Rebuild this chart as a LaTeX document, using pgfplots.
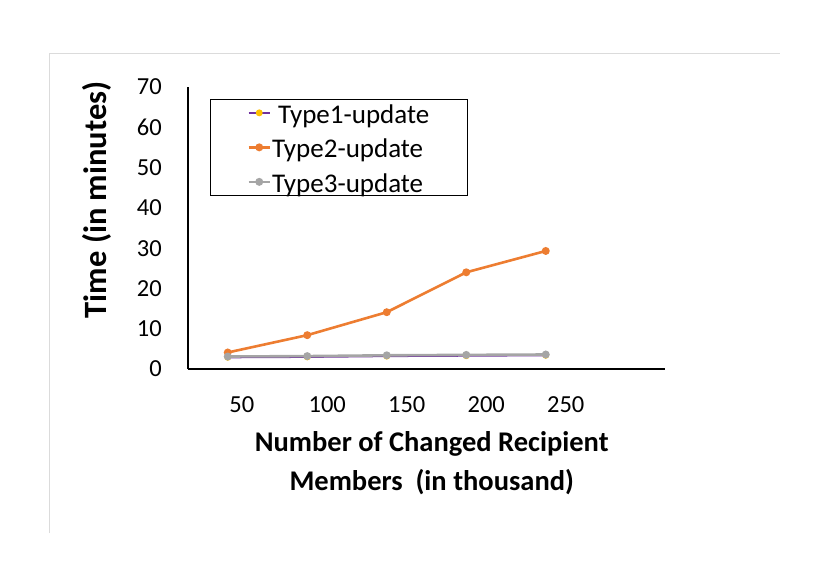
\documentclass[border=0pt]{standalone}
\usepackage{pgfplots}
\pgfplotsset{compat=1.18}
\usepackage{fontspec}
\setmainfont{Carlito}

\definecolor{tyone}{HTML}{7030A0}
\definecolor{tyonemark}{HTML}{FFC000}
\definecolor{tytwo}{HTML}{ED7D31}
\definecolor{tythree}{HTML}{A5A5A5}

\begin{document}
\begin{tikzpicture}
\path[use as bounding box] (0,0) rectangle (830pt,587pt);
% light frame of the chart area (top and left edges only)
\draw[line width=0.8pt, color=black!14] (49pt,54pt) -- (49pt,534pt) -- (780pt,534pt);
\begin{axis}[
    at={(188pt,218pt)}, anchor=south west,
    width=477pt, height=282pt, scale only axis,
    axis lines=left,
    axis line style={line width=1.4pt, -},
    xmin=-0.5, xmax=5.5,
    ymin=0, ymax=70,
    xtick={0,1,2,3,4},
    xticklabels={\hspace*{-12pt}50,100,150,200,250},
    ytick={0,10,...,70},
    major tick length=0pt,
    /pgf/number format/assume math mode=true,
    tick label style={font=\fontsize{24.5}{28}\selectfont},
    xticklabel style={anchor=center, yshift=-36pt, xshift=20pt},
    yticklabel style={anchor=east, inner sep=0pt, xshift=-26pt},
    ylabel={Time (in minutes)},
    ylabel style={font=\fontsize{32.5}{36}\selectfont\bfseries,
        at={(axis description cs:-0.191,0.60)}, anchor=center, rotate=0},
    xlabel={Number of Changed Recipient\\Members\ \ (in thousand)},
    xlabel style={font=\fontsize{28.5}{39}\selectfont\bfseries, align=center,
        at={(axis description cs:0.511,-0.333)}, anchor=center},
    legend style={at={(axis description cs:0.046,0.958)}, anchor=north west,
        draw=black, line width=1pt,
        font=\fontsize{27}{30}\selectfont,
        inner xsep=37pt, inner ysep=1pt,
        row sep=9.5pt,
        nodes={font=\fontsize{27}{30}\selectfont,
            text height=23pt, text depth=2pt, inner xsep=1pt, inner ysep=0pt}},
    legend cell align=left,
    legend image code/.code={\draw[mark repeat=2, mark phase=2, #1]
        plot coordinates {(0pt,0pt) (10.5pt,0pt) (21pt,0pt)};},
]
\addplot[color=tyone, line width=2pt, mark=*, mark size=2.4pt,
    mark options={fill=tyonemark, draw=tyonemark}]
    coordinates {(0,2.9) (1,3.0) (2,3.2) (3,3.3) (4,3.4)};
\addlegendentry{\ Type1-update}
\addplot[color=tytwo, line width=2.6pt, mark=*, mark size=2.6pt]
    coordinates {(0,4.1) (1,8.4) (2,14.1) (3,24.0) (4,29.3)};
\addlegendentry{Type2-update}
\addplot[color=tythree, line width=2.6pt, mark=*, mark size=2.6pt]
    coordinates {(0,3.1) (1,3.2) (2,3.4) (3,3.5) (4,3.6)};
\addlegendentry{Type3-update}
\end{axis}
\end{tikzpicture}
\end{document}
